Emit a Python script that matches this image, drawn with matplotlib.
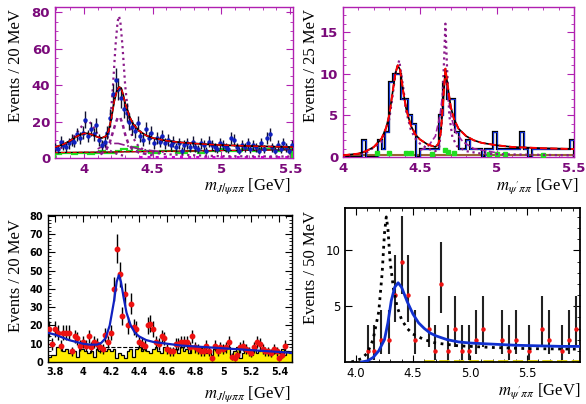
import numpy as np
import matplotlib
matplotlib.use("Agg")
import matplotlib.pyplot as plt
from matplotlib.ticker import MultipleLocator, FixedLocator, FixedFormatter

plt.rcParams['mathtext.fontset'] = 'stix'
plt.rcParams['font.family'] = ['DejaVu Sans']

# ---------------- Panel 1: J/psi pi pi (Belle-like) ----------------
p1_x0, p1_bw = 3.79, 0.02
p1_counts = [6, 5, 9, 7, 6, 8, 10, 9, 13, 11, 14, 21, 12, 16, 13, 18, 10, 7, 9, 14,
             22, 35, 43, 38, 33, 27, 25, 20, 17, 15, 19, 12, 10, 16, 11, 14, 8, 11, 9, 12,
             8, 10, 7, 9, 6, 8, 4, 7, 8, 6, 9, 6, 5, 8, 7, 4, 9, 7, 6, 5,
             8, 7, 6, 5, 11, 10, 6, 4, 7, 6, 8, 5, 7, 6, 4, 8, 5, 11, 13, 6,
             4, 7, 5, 8, 6, 4, 7]
p1_fit_x = [3.79, 3.85, 3.9, 3.95, 4.0, 4.03, 4.06, 4.1, 4.13, 4.16, 4.18, 4.2, 4.22, 4.24, 4.255,
            4.27, 4.285, 4.3, 4.33, 4.36, 4.4, 4.45, 4.5, 4.6, 4.7, 4.8, 4.9, 5.0, 5.2, 5.4, 5.52]
p1_fit_y = [6, 7.5, 9.5, 12, 13.5, 13.5, 12.8, 11.5, 11, 12, 15, 22, 31, 37, 39,
            38.5, 35, 30, 23, 18.5, 15, 12.5, 11, 9.5, 8.6, 8, 7.5, 7.1, 6.6, 6.2, 6]
p1_big_x = [4.10, 4.14, 4.17, 4.19, 4.21, 4.23, 4.245, 4.255, 4.265, 4.28, 4.30, 4.32, 4.35,
            4.40, 4.45, 4.5, 4.6, 4.8, 5.0, 5.52]
p1_big_y = [3, 6, 10, 18, 38, 62, 75, 78, 75, 62, 40, 25, 12, 6, 4, 3, 2, 1.5, 1, 0.8]
p1_small_x = [4.12, 4.16, 4.19, 4.21, 4.23, 4.245, 4.255, 4.265, 4.28, 4.30, 4.32, 4.35, 4.4, 4.5]
p1_small_y = [2, 4, 9, 14, 19, 22, 22.6, 22, 19, 13, 8.5, 5, 3, 1.5]
p1_low_x = [3.79, 3.85, 3.9, 3.95, 3.99, 4.02, 4.04, 4.07, 4.1, 4.13, 4.16, 4.2, 4.25, 4.3]
p1_low_y = [4, 6, 9, 14, 18, 20, 20, 17, 13, 9, 6, 3.5, 2, 1]
p1_dd_x = [4.1, 4.15, 4.2, 4.25, 4.3, 4.35, 4.4, 4.5, 4.6]
p1_dd_y = [5, 7, 8, 8, 7, 6, 5, 4, 3]
p1_bg_x = [3.79, 4.2, 4.6, 5.0, 5.52]
p1_bg_y = [3.0, 3.3, 3.7, 4.1, 4.5]
p1_mag_x = [4.4, 4.8, 5.2, 5.52]
p1_mag_y = [0.8, 0.8, 0.8, 0.8]
p1_sb_x0, p1_sb_bw = 3.79, 0.04
p1_sb = [2, 3, 3, 2, 3, 3, 2, 3, 4, 3, 3, 4, 5, 4, 6, 4, 4, 3, 3, 4, 4, 4,
         3, 3, 4, 4, 3, 4, 4, 4, 5, 4, 4, 4, 5, 5, 4, 5, 5, 5, 4, 5, 5]

# ---------------- Panel 2: psi' pi pi (Belle-like) ----------------
p2_x0, p2_bw = 4.0, 0.025
p2_counts = [0, 0, 0, 0, 0, 2, 0, 0, 0, 2, 1, 3, 9, 10, 10, 7, 7, 5, 4, 0,
             1, 1, 1, 1, 1, 5, 9, 7, 7, 3, 1, 1, 2, 1, 1, 1, 0, 1, 1, 3,
             1, 1, 1, 1, 1, 1, 3, 1, 0, 1, 1, 1, 1, 1, 1, 1, 1, 1, 1, 2]
p2_fit_x = [4.0, 4.1, 4.15, 4.2, 4.25, 4.28, 4.30, 4.32, 4.34, 4.355, 4.37, 4.39, 4.41, 4.44,
            4.47, 4.5, 4.55, 4.6, 4.62, 4.635, 4.65, 4.665, 4.68, 4.70, 4.72, 4.75, 4.8, 4.85,
            4.9, 5.0, 5.1, 5.3, 5.5]
p2_fit_y = [0.2, 0.4, 0.7, 1.2, 2.2, 3.5, 5, 7.5, 10, 11, 10.5, 8, 5.8, 3.8,
            2.7, 2.1, 1.5, 1.2, 1.6, 3, 6.5, 10.6, 8.5, 6, 4.6, 3.4, 2.5, 2,
            1.7, 1.4, 1.2, 1.05, 0.95]
p2_dot_x = [4.0, 4.15, 4.25, 4.3, 4.32, 4.34, 4.365, 4.39, 4.41, 4.44, 4.47, 4.5, 4.55, 4.6,
            4.625, 4.64, 4.655, 4.665, 4.675, 4.69, 4.71, 4.74, 4.8, 4.9, 5.1, 5.5]
p2_dot_y = [0.1, 0.5, 1.8, 4.5, 7, 10, 11.6, 8.5, 5.5, 3.3, 2.2, 1.6, 1, 0.7,
            1.2, 4, 11, 16, 11, 5, 2.4, 1.3, 0.7, 0.4, 0.3, 0.2]
p2_dash_x = [4.5, 4.55, 4.6, 4.63, 4.65, 4.665, 4.68, 4.7, 4.73, 4.78, 4.85, 5.0]
p2_dash_y = [0.8, 1.2, 2.5, 5, 8, 9.5, 8, 5, 3, 1.8, 1, 0.5]
p2_green_x = [4.22, 4.30, 4.41, 4.44, 4.58, 4.66, 4.68, 4.72, 4.95, 5.0, 5.05, 5.3]
p2_green_y = [0.5, 0.5, 0.5, 0.5, 0.4, 0.9, 0.6, 0.5, 0.4, 0.4, 0.4, 0.3]

# ---------------- Panel 3: J/psi pi pi (BaBar-like) ----------------
p3_x0, p3_bw = 3.76, 0.02
p3_counts = [18, 10, 18, 16, 9, 16, 16, 16, 6, 14, 13, 9, 11, 9, 14, 8, 11, 10, 8, 7,
             15, 11, 16, 40, 62, 48, 25, 37, 20, 32, 19, 18, 11, 10, 9, 20, 21, 18, 11, 10,
             14, 13, 7, 6, 6, 10, 10, 11, 11, 11, 8, 14, 8, 7, 6, 6, 9, 6, 2, 9,
             6, 8, 7, 8, 11, 3, 2, 4, 8, 9, 7, 6, 5, 8, 11, 10, 7, 6, 6, 5,
             7, 6, 2, 4, 9]
p3_bg_x0, p3_bg_bw = 3.75, 0.02
p3_bg = [3, 4, 4, 8, 8, 6, 7, 5, 5, 6, 3, 7, 7, 6, 5, 6, 3, 7, 6, 7, 6, 7, 6, 7, 2,
         5, 4, 2, 6, 7, 3, 7, 8, 6, 7, 6, 5, 7, 8, 6, 5, 8, 7, 6, 7, 7, 5, 8, 6, 7,
         5, 8, 7, 6, 7, 8, 5, 6, 4, 7, 8, 7, 6, 7, 8, 4, 6, 8, 2, 5, 7, 6, 4, 7, 5,
         6, 7, 5, 6, 4, 5, 6, 5, 7, 4, 6, 5]
p3_fit_x = [3.75, 3.8, 3.85, 3.9, 3.95, 4.0, 4.05, 4.1, 4.13, 4.16, 4.19, 4.22, 4.24, 4.255,
            4.27, 4.29, 4.31, 4.34, 4.37, 4.4, 4.45, 4.5, 4.6, 4.7, 4.8, 5.0, 5.2, 5.4, 5.49]
p3_fit_y = [16, 15, 13.5, 12, 11, 10, 9.5, 9.5, 10.5, 13, 20, 33, 44, 47.5,
            44, 35, 27, 20, 16, 14, 12, 11, 10, 9, 8.5, 7.5, 6.5, 5.5, 5]
p3_flat_x = [4.16, 4.40]
p3_flat_y = [8, 8]

# ---------------- Panel 4: psi' pi pi (BaBar-like) ----------------
p4_x = [4.105, 4.16, 4.22, 4.29, 4.34, 4.40, 4.455, 4.52, 4.64, 4.69, 4.75, 4.81, 4.87,
        4.93, 4.99, 5.05, 5.11, 5.28, 5.34, 5.40, 5.52, 5.63, 5.69, 5.81, 5.87, 5.93]
p4_n = [1, 1, 2, 2, 6, 9, 6, 2, 3, 1, 7, 1, 3, 1, 1, 2, 3, 2, 1, 2, 1, 3, 2, 1, 2, 3]
p4_err_lo = {1: 0.17, 2: 0.71, 3: 1.37, 6: 3.62, 7: 4.42, 9: 6.06}
p4_err_hi = {1: 3.3, 2: 4.64, 3: 5.92, 6: 9.58, 7: 10.77, 9: 13.1}
p4_blue_x = [4.05, 4.1, 4.15, 4.2, 4.25, 4.28, 4.31, 4.34, 4.37, 4.40, 4.45, 4.5, 4.55, 4.6,
             4.65, 4.7, 4.8, 4.9, 5.0, 5.2, 5.4, 5.6, 5.8, 5.965]
p4_blue_y = [0, 0.1, 0.4, 1.0, 2.0, 3.5, 5.5, 6.7, 7.1, 6.7, 5.4, 4.3, 3.5, 3.0,
             2.6, 2.35, 2.0, 1.8, 1.7, 1.6, 1.5, 1.45, 1.4, 1.4]
p4_dot_x = [3.96, 4.05, 4.1, 4.15, 4.2, 4.23, 4.25, 4.266, 4.28, 4.30, 4.33, 4.36, 4.4, 4.45,
            4.5, 4.6, 4.7, 4.9, 5.2, 5.5, 5.965]
p4_dot_y = [0, 0.3, 0.8, 2, 4.5, 8, 11.5, 13, 12, 9, 6.5, 5, 3.8, 3,
            2.5, 2, 1.7, 1.45, 1.3, 1.2, 1.15]
p4_yel_x = [4.6, 5.965]
p4_yel_y = [0.12, 0.12]

W, H = 586, 404
fig = plt.figure(figsize=(W / 100, H / 100), dpi=100)


def box(l, r, t, b):
    return [l / W, (H - b) / H, (r - l) / W, (b - t) / H]


def edges(x0, bw, n):
    return x0 + bw * np.arange(n + 1)


PURPLE = '#7a0a7a'
MAG = '#b020b0'
ylab_font = dict(family='Liberation Serif', fontsize=12)
xlab_font = dict(family='Liberation Serif', fontsize=12)


def style_axes(ax, spine_color, label_color, lsize, bold):
    for s in ax.spines.values():
        s.set_color(spine_color)
        s.set_linewidth(1.0)
    ax.tick_params(which='both', direction='in', top=True, right=True,
                   colors=spine_color, labelcolor=label_color, labelsize=lsize)
    ax.tick_params(which='major', length=5)
    ax.tick_params(which='minor', length=2.5)
    for lab in ax.get_xticklabels() + ax.get_yticklabels():
        lab.set_fontweight('bold' if bold else 'normal')


# ---- Panel 1 ----
ax1 = fig.add_axes(box(55, 293, 7, 158))
c1 = np.array(p1_counts, dtype=float)
x1 = p1_x0 + p1_bw * np.arange(len(c1))
e_sb = edges(p1_sb_x0, p1_sb_bw, len(p1_sb))
ax1.stairs(p1_sb, e_sb, color='#22dd22', lw=1.6, zorder=3)
ax1.plot(p1_bg_x, p1_bg_y, color='black', lw=0.9, zorder=3)
ax1.plot(p1_bg_x, p1_bg_y, color='red', lw=0.8, ls='--', zorder=3)
ax1.plot(p1_mag_x, p1_mag_y, color='#cc00cc', lw=2.2, ls=':', zorder=3)
ax1.plot(p1_low_x, p1_low_y, color='#8a1a8a', lw=1.6, ls=':', zorder=4)
ax1.plot(p1_small_x, p1_small_y, color='#8a1a8a', lw=1.8, ls=(0, (1.5, 1.5)), zorder=4)
ax1.plot(p1_big_x, p1_big_y, color='#8a1a8a', lw=1.6, ls=':', zorder=4)
ax1.plot(p1_dd_x, p1_dd_y, color='#8a1a8a', lw=1.2, ls='-.', zorder=4)
ax1.errorbar(x1, c1, yerr=np.sqrt(c1), fmt='o', ms=2.2, mfc='#1020c0', mec='#1020c0',
             ecolor='#101030', elinewidth=1.0, capsize=0, zorder=5)
ax1.plot(p1_fit_x, p1_fit_y, color='black', lw=1.3, zorder=6)
ax1.plot(p1_fit_x, p1_fit_y, color='red', lw=1.0, ls='--', zorder=7)
ax1.set_xlim(3.79, 5.52)
ax1.set_ylim(0, 83)
ax1.xaxis.set_major_locator(FixedLocator([4, 4.5, 5, 5.5]))
ax1.xaxis.set_major_formatter(FixedFormatter(['4', '4.5', '5', '5.5']))
ax1.xaxis.set_minor_locator(MultipleLocator(0.1))
ax1.yaxis.set_major_locator(MultipleLocator(20))
ax1.yaxis.set_minor_locator(MultipleLocator(5))
style_axes(ax1, MAG, PURPLE, 9.5, True)

# ---- Panel 2 ----
ax2 = fig.add_axes(box(343, 574, 7, 157))
c2 = np.array(p2_counts, dtype=float)
e2 = edges(p2_x0, p2_bw, len(c2))
ax2.plot([4.0, 5.5], [0.2, 0.2], color='#996633', lw=1.5, zorder=2)
ax2.stairs(c2, e2, color='black', lw=1.6, zorder=3)
ax2.stairs(c2, e2, color='#1030d0', lw=0.8, zorder=4)
ax2.plot(p2_green_x, p2_green_y, 's', color='#22dd22', ms=3.5, zorder=5)
ax2.plot(p2_dash_x, p2_dash_y, color='#a020a0', lw=1.2, ls='--', zorder=5)
ax2.plot(p2_dot_x, p2_dot_y, color='#8a1a8a', lw=1.6, ls=':', zorder=6)
ax2.plot(p2_fit_x, p2_fit_y, color='black', lw=1.2, zorder=7)
ax2.plot(p2_fit_x, p2_fit_y, color='red', lw=1.4, ls='--', zorder=8)
ax2.set_xlim(4.0, 5.5)
ax2.set_ylim(0, 18)
ax2.xaxis.set_major_locator(FixedLocator([4, 4.5, 5, 5.5]))
ax2.xaxis.set_major_formatter(FixedFormatter(['4', '4.5', '5', '5.5']))
ax2.xaxis.set_minor_locator(MultipleLocator(0.1))
ax2.yaxis.set_major_locator(MultipleLocator(5))
ax2.yaxis.set_minor_locator(MultipleLocator(1))
style_axes(ax2, MAG, PURPLE, 9.5, True)

# ---- Panel 3 ----
ax3 = fig.add_axes(box(48, 292, 215, 362))
e3 = edges(p3_bg_x0, p3_bg_bw, len(p3_bg))
ax3.stairs(p3_bg, e3, fill=True, color='#ffee00', zorder=2)
ax3.stairs(p3_bg, e3, color='black', lw=0.9, zorder=3)
ax3.plot(p3_flat_x, p3_flat_y, color='black', lw=0.8, ls='--', zorder=3)
c3 = np.array(p3_counts, dtype=float)
x3 = p3_x0 + p3_bw * np.arange(len(c3))
ax3.errorbar(x3, c3, yerr=np.sqrt(c3), fmt='o', ms=3.2, mfc='#ee1111', mec='#ee1111',
             ecolor='black', elinewidth=1.0, capsize=0, zorder=4)
ax3.plot(p3_fit_x, p3_fit_y, color='#1020c0', lw=1.6, zorder=5)
ax3.set_xlim(3.75, 5.49)
ax3.set_ylim(0, 80.5)
ax3.xaxis.set_major_locator(FixedLocator([3.8, 4.0, 4.2, 4.4, 4.6, 4.8, 5.0, 5.2, 5.4]))
ax3.xaxis.set_major_formatter(FixedFormatter(['3.8', '4', '4.2', '4.4', '4.6', '4.8', '5', '5.2', '5.4']))
ax3.xaxis.set_minor_locator(MultipleLocator(0.05))
ax3.yaxis.set_major_locator(MultipleLocator(10))
ax3.yaxis.set_minor_locator(MultipleLocator(2))
style_axes(ax3, 'black', 'black', 7, True)

# ---- Panel 4 ----
ax4 = fig.add_axes(box(345, 580, 208, 362))
ax4.plot(p4_yel_x, p4_yel_y, color='#e0d000', lw=2.0, ls='--', zorder=2)
n4 = np.array(p4_n, dtype=float)
lo = np.array([p4_err_lo[int(v)] for v in p4_n])
hi = np.array([p4_err_hi[int(v)] for v in p4_n])
ax4.errorbar(p4_x, n4, yerr=[n4 - lo, hi - n4], fmt='o', ms=2.2, mfc='#ee1111', mec='#ee1111',
             ecolor='#222222', elinewidth=1.5, capsize=0, zorder=4)
ax4.plot(p4_dot_x, p4_dot_y, color='black', lw=2.0, ls=':', zorder=5)
ax4.plot(p4_blue_x, p4_blue_y, color='#1030d0', lw=2.0, zorder=6)
ax4.set_xlim(3.904, 5.965)
ax4.set_ylim(0, 13.8)
ax4.xaxis.set_major_locator(FixedLocator([4.0, 4.5, 5.0, 5.5]))
ax4.xaxis.set_major_formatter(FixedFormatter(['4.0', '4.5', '5.0', '5.5']))
ax4.xaxis.set_minor_locator(MultipleLocator(0.1))
ax4.yaxis.set_major_locator(FixedLocator([5, 10]))
ax4.yaxis.set_minor_locator(MultipleLocator(1))
style_axes(ax4, 'black', 'black', 8.5, False)
ax4.tick_params(which='minor', left=False)
for s in ax4.spines.values():
    s.set_linewidth(1.3)

# ---- labels ----
def fx(px):
    return px / W


def fy(py):
    return (H - py) / H


fig.text(fx(16), fy(66), 'Events / 20 MeV', rotation=90, ha='center', va='center', **ylab_font)
fig.text(fx(311), fy(66), 'Events / 25 MeV', rotation=90, ha='center', va='center', **ylab_font)
fig.text(fx(16), fy(276), 'Events / 20 MeV', rotation=90, ha='center', va='center', **ylab_font)
fig.text(fx(311), fy(268), 'Events / 50 MeV', rotation=90, ha='center', va='center', **ylab_font)

fig.text(fx(291), fy(186), r'$m_{J/\psi\pi\pi}$ [GeV]', ha='right', va='center', **xlab_font)
fig.text(fx(578), fy(186), r"$m_{\psi'\pi\pi}$ [GeV]", ha='right', va='center', **xlab_font)
fig.text(fx(291), fy(394), r'$m_{J/\psi\pi\pi}$ [GeV]', ha='right', va='center', **xlab_font)
fig.text(fx(580), fy(391), r"$m_{\psi'\pi\pi}$ [GeV]", ha='right', va='center', **xlab_font)

fig.savefig('out.png', dpi=100)
